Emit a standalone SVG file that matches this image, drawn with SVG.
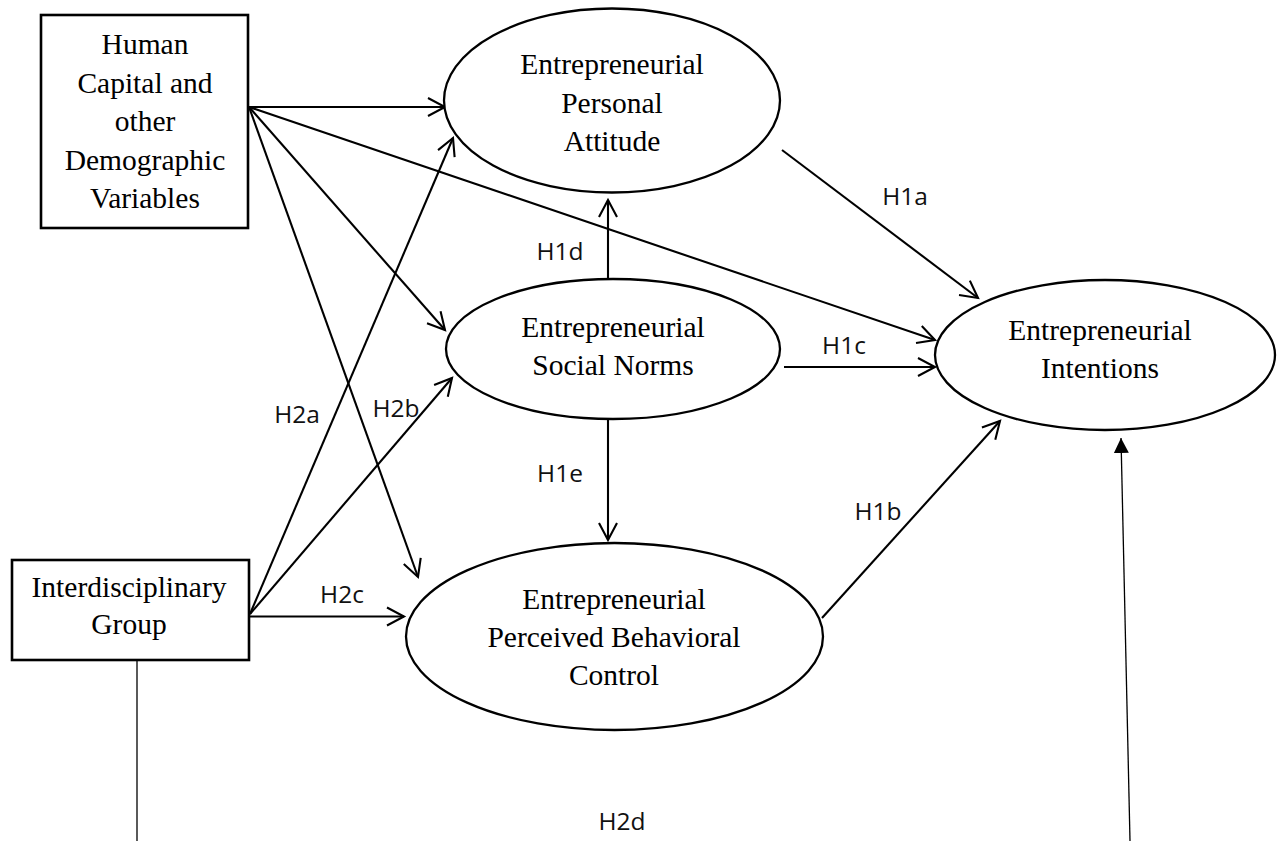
<svg xmlns="http://www.w3.org/2000/svg" width="1284" height="841" viewBox="0 0 1284 841">
<style>
.node rect{fill:#fff;stroke:#000;stroke-width:2.6}
.node ellipse{fill:#fff;stroke:#000;stroke-width:2.3}
.t{font-family:"Liberation Serif","Times New Roman",serif;font-size:29.5px;fill:#000;text-anchor:middle}
.lab{font-family:"Open Sans","Liberation Sans",sans-serif;font-size:24.5px;fill:#111;text-anchor:middle}
.c{fill:none;stroke:#000;stroke-width:2.1;marker-end:url(#open)}
.thin{fill:none;stroke:#000;stroke-width:1.3}
</style>
<defs>
<marker id="open" markerUnits="userSpaceOnUse" markerWidth="24" markerHeight="24" refX="19" refY="10" orient="auto" viewBox="0 0 24 20">
<path d="M2,1 L19,10 L2,19" fill="none" stroke="#000" stroke-width="2.1"/>
</marker>
<marker id="solid" markerUnits="userSpaceOnUse" markerWidth="16" markerHeight="16" refX="15" refY="7.5" orient="auto" viewBox="0 0 16 15">
<path d="M0,0 L15,7.5 L0,15 Z" fill="#000"/>
</marker>
</defs>
<rect width="1284" height="841" fill="#fff"/>
<g id="connectors">
<line class="c" x1="249" y1="107" x2="445" y2="107"/>
<line class="c" x1="249" y1="107" x2="935" y2="340"/>
<line class="c" x1="249" y1="107" x2="445" y2="330"/>
<line class="c" x1="249" y1="107" x2="418" y2="577"/>
<line class="c" x1="250" y1="614" x2="453" y2="138"/>
<line class="c" x1="250" y1="614" x2="452" y2="378"/>
<line class="c" x1="250" y1="616.5" x2="404" y2="616.5"/>
<line class="c" x1="782" y1="150" x2="978" y2="298"/>
<line class="c" x1="608" y1="279" x2="608" y2="200"/>
<line class="c" x1="784" y1="367" x2="935" y2="367"/>
<line class="c" x1="608" y1="419" x2="608" y2="540"/>
<line class="c" x1="822" y1="618" x2="1000" y2="421"/>
<line class="thin" x1="137" y1="660" x2="137" y2="841"/>
<line class="thin" x1="1130" y1="841" x2="1121" y2="438" marker-end="url(#solid)"/>
<text class="lab" x="905" y="205">H1a</text>
<text class="lab" x="560" y="260">H1d</text>
<text class="lab" x="844" y="354">H1c</text>
<text class="lab" x="560" y="482">H1e</text>
<text class="lab" x="878" y="520">H1b</text>
<text class="lab" x="297" y="423">H2a</text>
<text class="lab" x="396" y="417">H2b</text>
<text class="lab" x="342" y="603">H2c</text>
<text class="lab" x="622" y="830">H2d</text>
</g>
<g id="human-capital" class="node">
<rect x="41" y="15" width="207" height="213"/>
<text class="t" x="145" y="54">Human</text>
<text class="t" x="145" y="92.5">Capital and</text>
<text class="t" x="145" y="131">other</text>
<text class="t" x="145" y="169.5">Demographic</text>
<text class="t" x="145" y="208">Variables</text>
</g>
<g id="interdisciplinary" class="node">
<rect x="12" y="560" width="237" height="100"/>
<text class="t" x="129" y="597">Interdisciplinary</text>
<text class="t" x="129" y="634">Group</text>
</g>
<g id="personal-attitude" class="node">
<ellipse cx="612" cy="100.5" rx="168" ry="92"/>
<text class="t" x="612" y="74">Entrepreneurial</text>
<text class="t" x="612" y="112.5">Personal</text>
<text class="t" x="612" y="151">Attitude</text>
</g>
<g id="social-norms" class="node">
<ellipse cx="613" cy="349" rx="167" ry="70"/>
<text class="t" x="613" y="337">Entrepreneurial</text>
<text class="t" x="613" y="375">Social Norms</text>
</g>
<g id="intentions" class="node">
<ellipse cx="1105" cy="355" rx="170" ry="75"/>
<text class="t" x="1100" y="340">Entrepreneurial</text>
<text class="t" x="1100" y="378">Intentions</text>
</g>
<g id="perceived-control" class="node">
<ellipse cx="614.5" cy="636.5" rx="208.5" ry="93.5"/>
<text class="t" x="614" y="609">Entrepreneurial</text>
<text class="t" x="614" y="647">Perceived Behavioral</text>
<text class="t" x="614" y="685">Control</text>
</g>
</svg>
